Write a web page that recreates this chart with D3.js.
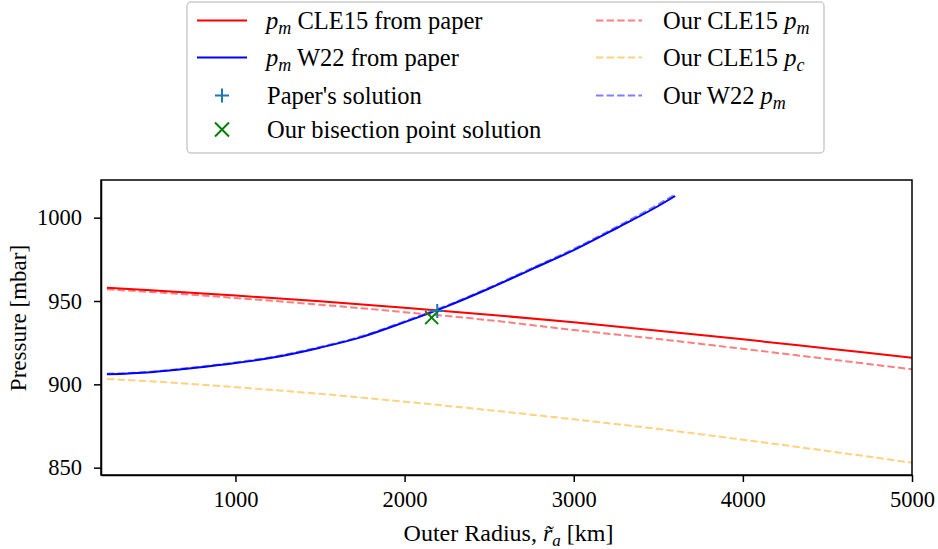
<!DOCTYPE html>
<html>
<head>
<meta charset="utf-8">
<script src="https://cdn.jsdelivr.net/npm/d3@7"></script>
<style>
  body { margin: 0; background: #fff; }
  svg { font-family: "Liberation Serif", "DejaVu Serif", serif; }
  .axis path, .axis line { stroke: #000; stroke-width: 1.5; }
  .axis text { font-size: 22.5px; fill: #000; font-family: "Liberation Serif", serif; }
</style>
</head>
<body>
<svg id="chart"></svg>
<script>
// data
var radiusCle = [240, 500, 1000, 1500, 2000, 2500, 3000, 3500, 4000, 4500, 5000];
var cle15Paper = [958.0, 956.5, 953.3, 949.8, 946.0, 941.8, 937.2, 932.2, 927.0, 921.5, 916.0];
var cle15Ours = [957.0, 955.4, 951.8, 947.8, 943.3, 938.5, 932.6, 927.2, 921.3, 915.2, 909.0];
var cle15OursPc = [903.2, 901.8, 898.3, 894.3, 889.6, 884.5, 879.0, 873.2, 866.8, 860.0, 853.0];

var radiusW22 = [240, 500, 750, 1000, 1250, 1500, 1750, 2000, 2250, 2500, 2750, 3000, 3250, 3500, 3600];
var w22Paper = [906.0, 907.3, 909.8, 912.8, 916.6, 922.0, 928.5, 937.3, 946.8, 957.5, 969.0, 980.5, 993.5, 1007.0, 1013.0];
var w22Ours = [906.3, 907.6, 910.1, 913.1, 917.0, 922.4, 929.0, 937.8, 947.3, 958.0, 969.6, 981.2, 994.3, 1008.0, 1014.0];

var paperSolution = [2193, 944.0];
var bisectionSolution = [2160, 940.0];

var xTicks = [1000, 2000, 3000, 4000, 5000];
var yTicks = [850, 900, 950, 1000];

//setup variables
var W = 938, H = 549,
    margin = {top: 180, right: 26, bottom: 74, left: 101},
    width = W - margin.left - margin.right,
    height = H - margin.top - margin.bottom,
    root = d3.select('#chart').attr("width", W).attr("height", H),
    svg = root.append("g")
        .attr("transform", "translate(" + margin.left + "," + margin.top + ")"),
    x = d3.scaleLinear().domain([205, 5000]).range([0, width]),
    y = d3.scaleLinear().domain([845.6, 1022.6]).range([height, 0]);

function line(xs) {
    return d3.line()
        .x(function(d, i) { return x(xs[i]); })
        .y(function(d) { return y(d); })
        .curve(d3.curveMonotoneX);
}

var series = [
    {xs: radiusCle, ys: cle15Paper, color: "red", opacity: 1, dash: null},
    {xs: radiusW22, ys: w22Paper, color: "blue", opacity: 1, dash: null},
    {xs: radiusCle, ys: cle15Ours, color: "red", opacity: 0.5, dash: "7.4,3.2"},
    {xs: radiusCle, ys: cle15OursPc, color: "orange", opacity: 0.5, dash: "7.4,3.2"},
    {xs: radiusW22, ys: w22Ours, color: "blue", opacity: 0.5, dash: "7.4,3.2"}
];

var plot = svg.append("g");
series.forEach(function(s) {
    plot.append("path")
        .datum(s.ys)
        .attr("fill", "none")
        .attr("stroke", s.color)
        .attr("stroke-opacity", s.opacity)
        .attr("stroke-width", 2)
        .attr("stroke-dasharray", s.dash)
        .attr("d", line(s.xs));
});

function plus(g, cx, cy, r, color) {
    g.append("path")
        .attr("d", "M" + (cx - r) + "," + cy + "H" + (cx + r) + "M" + cx + "," + (cy - r) + "V" + (cy + r))
        .attr("stroke", color).attr("stroke-width", 2).attr("fill", "none");
}
function cross(g, cx, cy, r, color) {
    g.append("path")
        .attr("d", "M" + (cx - r) + "," + (cy - r) + "L" + (cx + r) + "," + (cy + r) +
                   "M" + (cx - r) + "," + (cy + r) + "L" + (cx + r) + "," + (cy - r))
        .attr("stroke", color).attr("stroke-width", 2).attr("fill", "none");
}

plus(plot, x(paperSolution[0]), y(paperSolution[1]), 7, "#1f77b4");
cross(plot, x(bisectionSolution[0]), y(bisectionSolution[1]), 6.5, "green");

// axes
svg.append("g")
    .attr("class", "axis")
    .attr("transform", "translate(0," + height + ")")
    .call(d3.axisBottom(x).tickValues(xTicks).tickSizeInner(7).tickSizeOuter(0).tickPadding(9).tickFormat(d3.format("d")));

svg.append("g")
    .attr("class", "axis")
    .call(d3.axisLeft(y).tickValues(yTicks).tickSizeInner(7).tickSizeOuter(0).tickPadding(12).tickFormat(d3.format("d")));

// frame
svg.append("rect")
    .attr("width", width).attr("height", height)
    .attr("fill", "none").attr("stroke", "#000").attr("stroke-width", 1.5);

// axis labels
var xl = root.append("text")
    .attr("x", margin.left + width / 2 + 2)
    .attr("y", 541)
    .attr("text-anchor", "middle")
    .style("font-size", "24px");
xl.append("tspan").text("Outer Radius, ");
xl.append("tspan").style("font-style", "italic").text("r\u0303");
xl.append("tspan").style("font-style", "italic").style("font-size", "17px").attr("dy", 5).text("a");
xl.append("tspan").attr("dy", -5).text(" [km]");

root.append("text")
    .attr("transform", "translate(26,318) rotate(-90)")
    .attr("text-anchor", "middle")
    .style("font-size", "23px")
    .text("Pressure [mbar]");

// legend
var legend = root.append("g");
legend.append("rect")
    .attr("x", 187).attr("y", 2).attr("width", 637).attr("height", 151)
    .attr("rx", 4).attr("fill", "#fff").attr("fill-opacity", 0.8)
    .attr("stroke", "#cccccc").attr("stroke-width", 1.5);

var rows = [20.5, 57.5, 95.5, 129.5];
var fs = "24.5px", fsSub = "18px";

function pmLabel(tx, ty, pre, sub, post) {
    var el = legend.append("text").attr("x", tx).attr("y", ty + 8).style("font-size", fs);
    if (pre) el.append("tspan").text(pre);
    el.append("tspan").style("font-style", "italic").text("p");
    el.append("tspan").style("font-style", "italic").style("font-size", fsSub).attr("dy", 5).text(sub);
    if (post) el.append("tspan").attr("dy", -5).text(post);
}

var col1 = 197, col2 = 596, hw = 50, tx1 = 266, tx2 = 663;
[[0, "red"], [1, "blue"]].forEach(function(r) {
    legend.append("line").attr("x1", col1).attr("x2", col1 + hw)
        .attr("y1", rows[r[0]]).attr("y2", rows[r[0]])
        .attr("stroke", r[1]).attr("stroke-width", 2);
});
pmLabel(tx1, rows[0], null, "m", " CLE15 from paper");
pmLabel(tx1, rows[1], null, "m", " W22 from paper");
plus(legend, col1 + hw / 2, rows[2], 7, "#1f77b4");
legend.append("text").attr("x", tx1 + 1).attr("y", rows[2] + 8).style("font-size", fs).text("Paper's solution");
cross(legend, col1 + hw / 2, rows[3], 7, "green");
legend.append("text").attr("x", tx1 + 1).attr("y", rows[3] + 8).style("font-size", fs).text("Our bisection point solution");

[["red", "m", "Our CLE15 "], ["orange", "c", "Our CLE15 "], ["blue", "m", "Our W22 "]].forEach(function(r, i) {
    legend.append("line").attr("x1", col2).attr("x2", col2 + hw - 4)
        .attr("y1", rows[i]).attr("y2", rows[i])
        .attr("stroke", r[0]).attr("stroke-opacity", 0.5)
        .attr("stroke-width", 2).attr("stroke-dasharray", "7.4,3.2");
    pmLabel(tx2, rows[i], r[2], r[1], null);
});
</script>
</body>
</html>
